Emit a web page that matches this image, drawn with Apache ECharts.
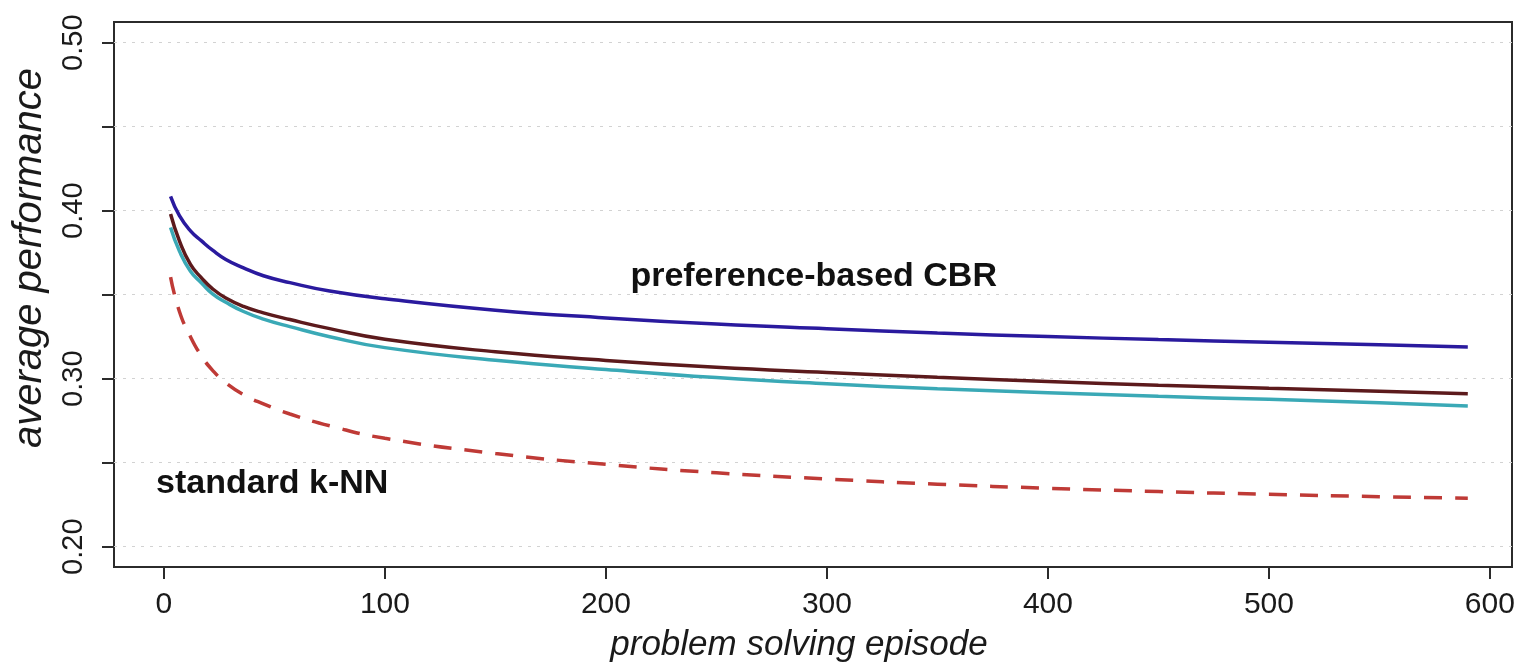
<!DOCTYPE html>
<html>
<head>
<meta charset="utf-8">
<script src="https://cdn.jsdelivr.net/npm/echarts@6/dist/echarts.min.js"></script>
<style>
  html, body { margin: 0; padding: 0; background: #fff; }
  #chart { width: 1518px; height: 666px; }
</style>
</head>
<body>
<div id="chart"></div>
<script>
var episodes = [3, 7, 12, 17, 22, 28, 36, 45, 57, 75, 100, 150, 200, 250, 300, 350, 400, 450, 500, 550, 590]

var prefBlue = [0.4085, 0.397, 0.388, 0.382, 0.3765, 0.371, 0.366, 0.3613, 0.3572, 0.3522, 0.3476, 0.3408, 0.3362, 0.3325, 0.3297, 0.3272, 0.3251, 0.3233, 0.3217, 0.3202, 0.3189]
var prefBrown = [0.398, 0.382, 0.368, 0.36, 0.3535, 0.348, 0.343, 0.3392, 0.3352, 0.3298, 0.3235, 0.316, 0.3109, 0.3068, 0.3037, 0.3008, 0.2983, 0.2961, 0.2943, 0.2926, 0.2911]
var prefCyan = [0.39, 0.376, 0.364, 0.357, 0.3505, 0.3455, 0.34, 0.3355, 0.331, 0.325, 0.3185, 0.311, 0.3055, 0.3007, 0.297, 0.294, 0.2917, 0.2895, 0.2877, 0.2857, 0.2837]
var knn = [0.3605, 0.34, 0.325, 0.3135, 0.305, 0.2975, 0.2905, 0.285, 0.279, 0.272, 0.2645, 0.2555, 0.249, 0.244, 0.2403, 0.2372, 0.2348, 0.2328, 0.2312, 0.2298, 0.2288]

var xTicks = [0, 100, 200, 300, 400, 500, 600]
var yTicks = [0.2, 0.25, 0.3, 0.35, 0.4, 0.45, 0.5]
var yLabels = [0.2, 0.3, 0.4, 0.5]

function pairs(ys) {
  return episodes.map(function (x, i) { return [x, ys[i]] })
}

var font = 'Liberation Sans, Arial, Helvetica, sans-serif'
var chart = echarts.init(document.getElementById('chart'))

function line(name, ys, color, dashed) {
  return {
    name: name,
    type: 'line',
    data: pairs(ys),
    smooth: true,
    symbol: 'none',
    silent: true,
    lineStyle: {
      color: color,
      width: 3.5,
      type: dashed ? [18, 13] : 'solid'
    }
  }
}

chart.setOption({
  animation: false,
  backgroundColor: '#fff',
  grid: {
    left: 114,
    right: 6,
    top: 22,
    bottom: 99,
    show: true,
    borderColor: '#2b2b2b',
    borderWidth: 2
  },
  xAxis: {
    type: 'value',
    min: -22.6,
    max: 610,
    axisLine: { show: false, onZero: false },
    axisTick: {
      customValues: xTicks,
      length: 12,
      lineStyle: { color: '#2b2b2b', width: 2 }
    },
    axisLabel: {
      customValues: xTicks,
      margin: 23,
      fontSize: 30,
      fontFamily: font,
      color: '#1a1a1a'
    },
    splitLine: { show: false }
  },
  yAxis: {
    type: 'value',
    min: 0.18792,
    max: 0.51232,
    axisLine: { show: false, onZero: false },
    axisTick: {
      customValues: yTicks,
      length: 12,
      lineStyle: { color: '#2b2b2b', width: 2 }
    },
    axisLabel: {
      customValues: yLabels,
      rotate: 90,
      margin: 26,
      fontSize: 29,
      fontFamily: font,
      color: '#1a1a1a',
      formatter: function (v) { return v.toFixed(2) }
    },
    splitLine: {
      show: true,
      lineStyle: { color: '#d2d2d2', width: 1, type: [3, 6] }
    }
  },
  series: [
    line('standard k-NN', knn, '#bf3a36', true),
    line('pref cyan', prefCyan, '#3aa9b6', false),
    line('pref brown', prefBrown, '#5c1a1c', false),
    line('pref blue', prefBlue, '#2a1a9e', false)
  ]
})

// text annotations placed in data coordinates
var cbrAt = chart.convertToPixel({ gridIndex: 0 }, [294, 0.3605])
var knnAt = chart.convertToPixel({ gridIndex: 0 }, [49, 0.2373])

chart.setOption({
  graphic: [
    {
      type: 'text', x: cbrAt[0], y: cbrAt[1],
      style: { text: 'preference-based CBR', font: 'bold 34px ' + font, fill: '#111', align: 'center', verticalAlign: 'middle' }
    },
    {
      type: 'text', x: knnAt[0], y: knnAt[1],
      style: { text: 'standard k-NN', font: 'bold 34px ' + font, fill: '#111', align: 'center', verticalAlign: 'middle' }
    },
    {
      type: 'text', x: 799, y: 645,
      style: { text: 'problem solving episode', font: 'italic 35px ' + font, fill: '#1a1a1a', align: 'center', verticalAlign: 'middle' }
    },
    {
      type: 'text', x: 30, y: 258, rotation: Math.PI / 2,
      style: { text: 'average performance', font: 'italic 40px ' + font, fill: '#1a1a1a', align: 'center', verticalAlign: 'middle' }
    }
  ]
})
</script>
</body>
</html>
